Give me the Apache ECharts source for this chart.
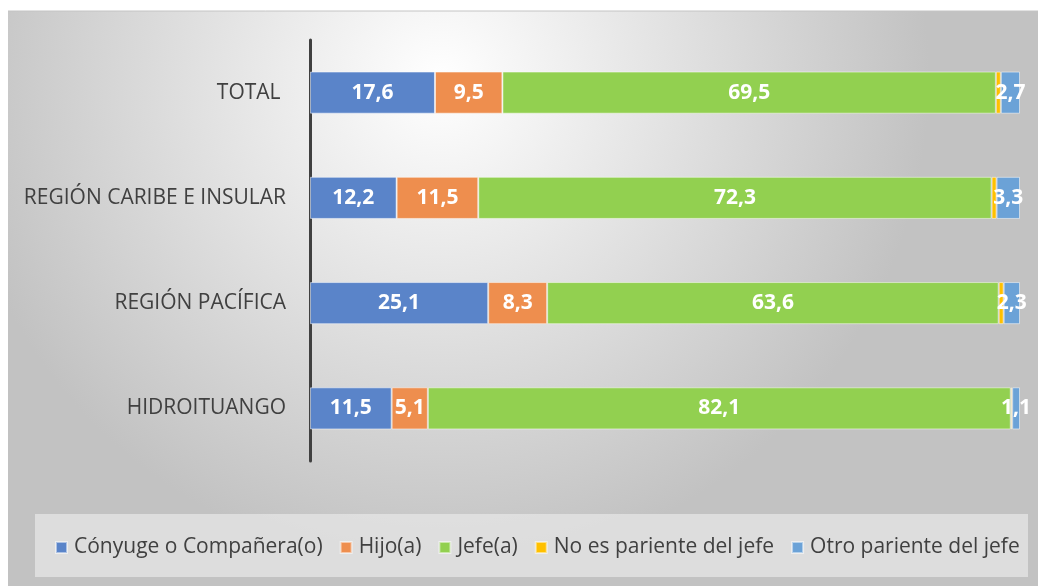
<!DOCTYPE html>
<html>
<head>
<meta charset="utf-8">
<script src="https://cdn.jsdelivr.net/npm/echarts@6/dist/echarts.min.js"></script>
<style>
  html, body { margin: 0; padding: 0; background: #fff; }
  #chart { width: 1038px; height: 586px; }
</style>
</head>
<body>
<div id="chart"></div>
<script>
const categories = ['TOTAL ', 'REGIÓN CARIBE E INSULAR', 'REGIÓN PACÍFICA', 'HIDROITUANGO'];
const seriesNames = ['Cónyuge o Compañera(o)', 'Hijo(a)', 'Jefe(a)', 'No es pariente del jefe', 'Otro pariente del jefe'];
const conyuge = [17.6, 12.2, 25.1, 11.5];
const hijo = [9.5, 11.5, 8.3, 5.1];
const jefe = [69.5, 72.3, 63.6, 82.1];
const noPariente = [0.7, 0.7, 0.7, 0.2];
const otroPariente = [2.7, 3.3, 2.3, 1.1];
const colors = ['#5A84C9', '#EE8E4E', '#92D050', '#FFC000', '#6BA2D7'];

const values = [conyuge, hijo, jefe, noPariente, otroPariente];
const font = '"Open Sans", sans-serif';

const chart = echarts.init(document.getElementById('chart'));

chart.setOption({
  animation: false,
  graphic: [
    {
      type: 'rect', z: -10, silent: true,
      shape: { x: 8, y: 11, width: 1030, height: 575 },
      style: {
        fill: {
          type: 'radial', x: 0.42, y: 0.12, r: 0.85,
          colorStops: [
            { offset: 0, color: '#ffffff' },
            { offset: 1, color: '#c2c2c2' }
          ]
        }
      }
    },
    {
      type: 'line', z: -9, silent: true,
      shape: { x1: 8, y1: 11, x2: 1038, y2: 11 },
      style: { stroke: '#c4c4c4', lineWidth: 1 }
    },
    {
      type: 'rect', z: -8, silent: true,
      shape: { x: 35, y: 514, width: 993, height: 63 },
      style: { fill: 'rgba(232,232,232,0.7)' }
    }
  ],
  color: colors,
  grid: { left: 310, right: 18, top: 40, bottom: 125, containLabel: false },
  legend: {
    left: 50, top: 532,
    itemWidth: 11, itemHeight: 11, itemGap: 17,
    icon: 'rect',
    textStyle: { fontFamily: font, fontSize: 21, color: '#404040', padding: [0, 0, 0, 2] },
    data: seriesNames
  },
  xAxis: {
    type: 'value', min: 0, max: 100, show: false
  },
  yAxis: {
    type: 'category', inverse: true, data: categories,
    axisLine: { show: true, lineStyle: { color: '#404040', width: 3 } },
    axisTick: { show: false },
    axisLabel: { fontFamily: font, fontSize: 21, color: '#404040', margin: 24 }
  },
  series: seriesNames.map((name, i) => ({
    name: name,
    type: 'bar',
    stack: 'total',
    barWidth: '40%',
    data: values[i],
    itemStyle: { borderColor: 'rgba(255,255,255,0.5)', borderWidth: 1 },
    label: {
      show: i !== 3,
      position: 'inside',
      color: '#ffffff',
      fontFamily: font,
      fontWeight: 'bold',
      fontSize: 21,
      formatter: p => String(p.value).replace('.', ',')
    }
  }))
});
</script>
</body>
</html>
